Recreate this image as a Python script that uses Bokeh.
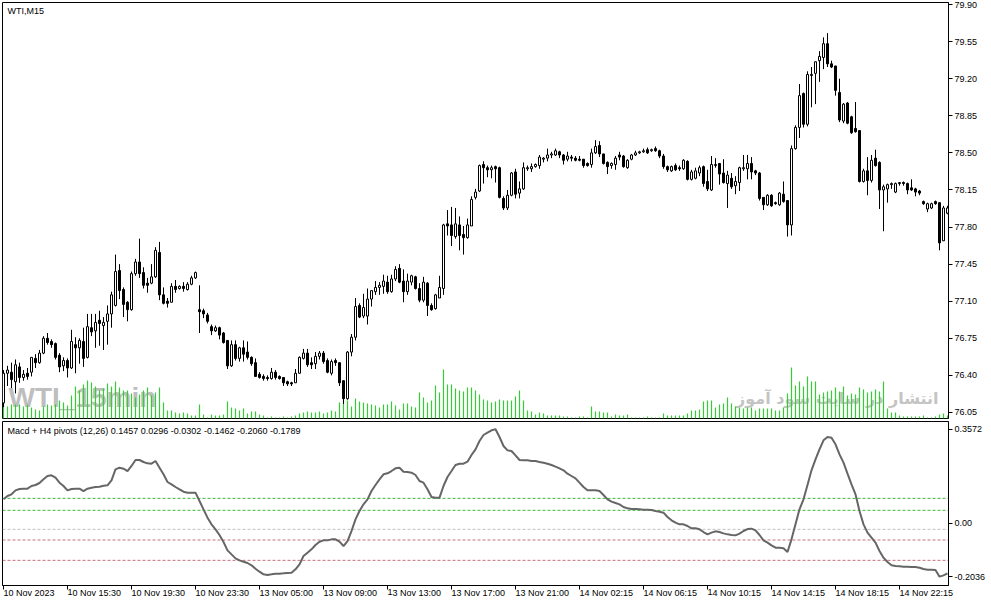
from bokeh.embed import file_html
from bokeh.layouts import column
from bokeh.models import ColumnDataSource, FixedTicker, Label, NumeralTickFormatter, Range1d, Span
from bokeh.plotting import figure
from bokeh.resources import INLINE

# WTI M15 candles, 10 Nov 11:30 .. 14 Nov 22:30
opens = [
    76.14, 76.42, 76.43, 76.34, 76.48, 76.38, 76.42, 76.43, 76.56, 76.52,
    76.61, 76.75, 76.72, 76.70, 76.59, 76.49, 76.54, 76.47, 76.69, 76.66,
    76.72, 76.57, 76.85, 76.82, 76.92, 76.87, 76.91, 76.98, 77.06, 77.39,
    77.21, 77.09, 77.02, 77.36, 77.47, 77.37, 77.27, 77.27, 77.33, 77.56,
    77.16, 77.10, 77.09, 77.24, 77.22, 77.24, 77.21, 77.26, 77.32, 77.02,
    77.01, 76.97, 76.86, 76.82, 76.85, 76.80, 76.73, 76.49, 76.69, 76.56,
    76.66, 76.62, 76.57, 76.52, 76.41, 76.39, 76.38, 76.37, 76.43, 76.39,
    76.38, 76.34, 76.33, 76.33, 76.42, 76.56, 76.61, 76.52, 76.51, 76.58,
    76.61, 76.54, 76.42, 76.54, 76.52, 76.35, 76.18, 76.62, 76.76, 77.06,
    76.96, 76.96, 77.12, 77.19, 77.23, 77.24, 77.28, 77.19, 77.31, 77.41,
    77.29, 77.19, 77.28, 77.33, 77.22, 77.11, 77.27, 77.06, 77.03, 77.13,
    77.22, 77.83, 77.82, 77.71, 77.82, 77.73, 77.70, 77.81, 78.08, 78.14,
    78.39, 78.36, 78.34, 78.37, 78.36, 78.07, 77.98, 78.10, 78.32, 78.12,
    78.16, 78.35, 78.35, 78.37, 78.38, 78.44, 78.45, 78.48, 78.48, 78.51,
    78.48, 78.44, 78.46, 78.45, 78.44, 78.44, 78.40, 78.39, 78.50, 78.57,
    78.49, 78.41, 78.38, 78.39, 78.48, 78.47, 78.36, 78.44, 78.48, 78.50,
    78.51, 78.53, 78.52, 78.54, 78.52, 78.47, 78.37, 78.33, 78.38, 78.36,
    78.35, 78.42, 78.25, 78.26, 78.31, 78.37, 78.23, 78.15, 78.38, 78.40,
    78.31, 78.21, 78.26, 78.19, 78.22, 78.35, 78.35, 78.40, 78.33, 78.31,
    78.08, 78.01, 78.10, 78.03, 78.01, 78.11, 78.05, 77.82, 78.54, 78.74,
    79.06, 78.77, 79.23, 79.25, 79.37, 79.40, 79.53, 79.34, 79.32, 79.07,
    78.80, 78.97, 78.84, 78.73, 78.71, 78.23, 78.33, 78.24, 78.45, 78.41,
    78.15, 78.16, 78.20, 78.13, 78.21, 78.22, 78.21, 78.17, 78.16, 78.14,
    78.04, 77.97, 77.98, 78.04, 78.03, 77.67, 77.93,
]
highs = [
    76.45, 76.49, 76.52, 76.55, 76.52, 76.45, 76.47, 76.57, 76.60, 76.64,
    76.77, 76.80, 76.74, 76.71, 76.61, 76.57, 76.56, 76.83, 76.76, 76.75,
    76.85, 76.98, 76.98, 76.98, 77.01, 76.95, 77.06, 77.19, 77.54, 77.45,
    77.23, 77.10, 77.38, 77.50, 77.69, 77.42, 77.32, 77.45, 77.61, 77.66,
    77.23, 77.13, 77.27, 77.30, 77.25, 77.28, 77.28, 77.34, 77.38, 77.25,
    77.03, 76.99, 76.88, 76.87, 76.86, 76.81, 76.73, 76.73, 76.73, 76.67,
    76.73, 76.72, 76.58, 76.56, 76.43, 76.41, 76.40, 76.47, 76.45, 76.40,
    76.38, 76.35, 76.34, 76.46, 76.58, 76.65, 76.65, 76.57, 76.62, 76.63,
    76.63, 76.56, 76.55, 76.56, 76.52, 76.35, 76.63, 76.79, 77.13, 77.08,
    77.17, 77.22, 77.20, 77.29, 77.28, 77.35, 77.34, 77.35, 77.43, 77.45,
    77.40, 77.36, 77.35, 77.34, 77.27, 77.33, 77.28, 77.08, 77.17, 77.34,
    77.83, 77.96, 77.99, 77.98, 77.90, 77.81, 77.88, 78.09, 78.16, 78.39,
    78.42, 78.38, 78.38, 78.38, 78.37, 78.09, 78.15, 78.32, 78.35, 78.23,
    78.41, 78.38, 78.40, 78.40, 78.48, 78.46, 78.54, 78.51, 78.54, 78.52,
    78.49, 78.51, 78.48, 78.47, 78.47, 78.44, 78.41, 78.54, 78.62, 78.61,
    78.49, 78.42, 78.41, 78.47, 78.51, 78.48, 78.44, 78.49, 78.52, 78.52,
    78.54, 78.55, 78.54, 78.56, 78.53, 78.49, 78.38, 78.38, 78.40, 78.38,
    78.44, 78.43, 78.34, 78.36, 78.38, 78.38, 78.34, 78.47, 78.45, 78.40,
    78.44, 78.33, 78.31, 78.28, 78.37, 78.48, 78.48, 78.46, 78.34, 78.32,
    78.08, 78.11, 78.11, 78.04, 78.13, 78.23, 78.05, 78.57, 78.76, 79.15,
    79.07, 79.27, 79.31, 79.36, 79.46, 79.59, 79.63, 79.37, 79.32, 79.20,
    78.97, 78.98, 78.85, 78.98, 78.71, 78.35, 78.46, 78.48, 78.53, 78.42,
    78.20, 78.21, 78.22, 78.22, 78.22, 78.23, 78.22, 78.25, 78.17, 78.15,
    78.05, 78.03, 78.03, 78.05, 78.03, 78.00, 78.00,
]
lows = [
    76.10, 76.30, 76.28, 76.23, 76.33, 76.35, 76.36, 76.39, 76.47, 76.51,
    76.60, 76.69, 76.66, 76.55, 76.43, 76.44, 76.38, 76.46, 76.42, 76.51,
    76.48, 76.56, 76.77, 76.66, 76.68, 76.64, 76.69, 76.85, 77.05, 77.12,
    76.95, 76.91, 77.01, 77.34, 77.32, 77.22, 77.18, 77.26, 77.32, 77.11,
    77.07, 77.04, 77.09, 77.18, 77.21, 77.19, 77.20, 77.25, 77.31, 76.80,
    76.94, 76.89, 76.78, 76.81, 76.74, 76.70, 76.46, 76.48, 76.54, 76.53,
    76.53, 76.55, 76.49, 76.39, 76.37, 76.35, 76.35, 76.36, 76.36, 76.36,
    76.30, 76.30, 76.30, 76.33, 76.42, 76.55, 76.48, 76.46, 76.46, 76.55,
    76.51, 76.42, 76.40, 76.49, 76.30, 76.13, 76.17, 76.58, 76.73, 76.94,
    76.94, 76.88, 77.05, 77.16, 77.16, 77.17, 77.17, 77.18, 77.29, 77.27,
    77.09, 77.16, 77.25, 77.21, 77.09, 77.09, 76.96, 77.01, 77.02, 77.13,
    77.16, 77.72, 77.62, 77.69, 77.58, 77.54, 77.69, 77.81, 78.06, 78.13,
    78.21, 78.27, 78.26, 78.22, 78.07, 77.96, 77.96, 78.09, 78.07, 78.07,
    78.15, 78.33, 78.32, 78.36, 78.35, 78.41, 78.42, 78.45, 78.47, 78.45,
    78.39, 78.42, 78.42, 78.42, 78.42, 78.36, 78.37, 78.36, 78.49, 78.46,
    78.39, 78.30, 78.35, 78.34, 78.43, 78.36, 78.35, 78.43, 78.47, 78.49,
    78.50, 78.49, 78.51, 78.51, 78.45, 78.35, 78.32, 78.32, 78.33, 78.33,
    78.34, 78.24, 78.24, 78.25, 78.28, 78.18, 78.14, 78.14, 78.36, 78.20,
    78.21, 77.98, 78.16, 78.11, 78.14, 78.33, 78.25, 78.25, 78.29, 78.05,
    77.96, 78.00, 77.99, 78.01, 78.00, 78.03, 77.71, 77.72, 78.53, 78.64,
    78.74, 78.75, 78.93, 78.96, 79.17, 79.29, 79.31, 79.30, 79.04, 78.79,
    78.78, 78.77, 78.68, 78.69, 78.22, 78.22, 78.10, 78.22, 78.37, 77.97,
    77.76, 78.03, 78.16, 78.12, 78.19, 78.19, 78.11, 78.14, 78.09, 78.10,
    78.01, 77.94, 77.97, 78.01, 77.58, 77.67, 77.92,
]
closes = [
    76.42, 76.45, 76.36, 76.50, 76.38, 76.41, 76.39, 76.57, 76.52, 76.61,
    76.75, 76.71, 76.69, 76.57, 76.48, 76.54, 76.47, 76.72, 76.66, 76.73,
    76.56, 76.86, 76.81, 76.90, 76.89, 76.90, 76.98, 77.16, 77.38, 77.20,
    77.07, 77.02, 77.36, 77.47, 77.36, 77.25, 77.25, 77.33, 77.58, 77.16,
    77.08, 77.08, 77.24, 77.21, 77.24, 77.22, 77.26, 77.32, 77.37, 77.00,
    76.98, 76.91, 76.82, 76.85, 76.78, 76.71, 76.49, 76.69, 76.56, 76.66,
    76.60, 76.57, 76.51, 76.39, 76.38, 76.37, 76.37, 76.43, 76.38, 76.37,
    76.33, 76.32, 76.32, 76.42, 76.57, 76.61, 76.50, 76.50, 76.58, 76.61,
    76.53, 76.43, 76.53, 76.52, 76.33, 76.18, 76.62, 76.76, 77.05, 76.95,
    77.04, 77.12, 77.20, 77.23, 77.25, 77.29, 77.19, 77.31, 77.40, 77.28,
    77.19, 77.29, 77.34, 77.22, 77.11, 77.28, 77.06, 77.02, 77.16, 77.23,
    77.82, 77.81, 77.72, 77.83, 77.72, 77.70, 77.82, 78.06, 78.13, 78.38,
    78.36, 78.34, 78.36, 78.35, 78.08, 77.98, 78.10, 78.31, 78.11, 78.16,
    78.36, 78.36, 78.37, 78.39, 78.46, 78.45, 78.48, 78.49, 78.52, 78.48,
    78.43, 78.47, 78.45, 78.43, 78.43, 78.38, 78.38, 78.50, 78.56, 78.49,
    78.40, 78.37, 78.40, 78.45, 78.46, 78.37, 78.43, 78.48, 78.50, 78.51,
    78.52, 78.50, 78.53, 78.52, 78.47, 78.37, 78.34, 78.37, 78.34, 78.35,
    78.43, 78.25, 78.32, 78.33, 78.36, 78.21, 78.16, 78.39, 78.39, 78.30,
    78.22, 78.29, 78.18, 78.23, 78.36, 78.36, 78.40, 78.32, 78.31, 78.07,
    78.01, 78.10, 78.00, 78.02, 78.12, 78.04, 77.82, 78.54, 78.74, 79.04,
    78.77, 79.24, 79.24, 79.36, 79.41, 79.53, 79.34, 79.31, 79.09, 78.81,
    78.96, 78.78, 78.69, 78.70, 78.23, 78.33, 78.24, 78.43, 78.38, 78.15,
    78.18, 78.20, 78.21, 78.21, 78.22, 78.21, 78.15, 78.15, 78.13, 78.12,
    78.02, 78.02, 78.02, 78.02, 77.65, 77.98, 77.98,
]
tick_volumes = [
    16, 12, 14, 14, 14, 12, 14, 11, 9, 8,
    12, 14, 13, 14, 18, 16, 13, 23, 32, 28,
    34, 38, 36, 32, 28, 30, 35, 32, 37, 31,
    28, 28, 25, 21, 24, 28, 31, 23, 26, 31,
    16, 8, 8, 6, 5, 6, 5, 3, 3, 14,
    4, 1, 4, 3, 3, 4, 17, 11, 10, 8,
    10, 5, 7, 7, 4, 3, 1, 2, 1, 1,
    2, 1, 2, 3, 5, 6, 7, 6, 6, 7,
    5, 6, 8, 7, 16, 18, 18, 12, 20, 17,
    16, 15, 14, 13, 11, 14, 14, 17, 13, 9,
    15, 15, 12, 11, 26, 21, 16, 18, 33, 26,
    49, 34, 34, 30, 28, 27, 31, 31, 28, 24,
    19, 18, 16, 17, 19, 18, 18, 18, 22, 28,
    18, 8, 7, 4, 6, 5, 3, 3, 3, 3,
    2, 2, 1, 1, 2, 2, 1, 12, 7, 7,
    6, 6, 2, 4, 3, 3, 4, 1, 1, 1,
    1, 2, 1, 1, 1, 5, 3, 3, 3, 3,
    3, 5, 8, 8, 9, 17, 18, 18, 11, 14,
    15, 21, 15, 12, 11, 10, 11, 11, 8, 10,
    10, 10, 10, 8, 8, 11, 25, 51, 33, 37,
    32, 42, 37, 37, 24, 26, 27, 28, 31, 27,
    32, 23, 25, 24, 31, 29, 26, 27, 29, 27,
    37, 10, 6, 6, 3, 2, 2, 2, 2, 2,
    3, 1, 1, 2, 4, 5, 3,
]
macd = [
    0.0907, 0.1034, 0.1098, 0.1250, 0.1300, 0.1313, 0.1313, 0.1415, 0.1453, 0.1529,
    0.1668, 0.1795, 0.1821, 0.1732, 0.1541, 0.1415, 0.1250, 0.1300, 0.1313, 0.1313,
    0.1224, 0.1313, 0.1351, 0.1377, 0.1389, 0.1427, 0.1440, 0.1630, 0.2049, 0.2112,
    0.2074, 0.1985, 0.2176, 0.2404, 0.2404, 0.2328, 0.2277, 0.2264, 0.2366, 0.2112,
    0.1859, 0.1567, 0.1478, 0.1377, 0.1288, 0.1199, 0.1161, 0.1161, 0.1161, 0.0844,
    0.0527, 0.0210, -0.0044, -0.0234, -0.0450, -0.0716, -0.1033, -0.1186, -0.1338, -0.1414,
    -0.1465, -0.1515, -0.1604, -0.1731, -0.1845, -0.1947, -0.1972, -0.1947, -0.1921, -0.1921,
    -0.1909, -0.1896, -0.1883, -0.1756, -0.1566, -0.1249, -0.1122, -0.0995, -0.0830, -0.0704,
    -0.0653, -0.0653, -0.0615, -0.0615, -0.0704, -0.0869, -0.0678, -0.0298, 0.0146, 0.0463,
    0.0717, 0.0907, 0.1224, 0.1453, 0.1668, 0.1859, 0.1897, 0.1985, 0.2087, 0.2112,
    0.1960, 0.1947, 0.1922, 0.1833, 0.1605, 0.1541, 0.1288, 0.0996, 0.0971, 0.0971,
    0.1415, 0.1757, 0.1985, 0.2214, 0.2264, 0.2264, 0.2341, 0.2594, 0.2810, 0.3127,
    0.3355, 0.3444, 0.3533, 0.3571, 0.3279, 0.2937, 0.2772, 0.2746, 0.2582, 0.2404,
    0.2391, 0.2391, 0.2366, 0.2366, 0.2328, 0.2302, 0.2264, 0.2214, 0.2150, 0.2087,
    0.2011, 0.1884, 0.1795, 0.1706, 0.1541, 0.1377, 0.1250, 0.1250, 0.1250, 0.1224,
    0.1072, 0.0907, 0.0819, 0.0768, 0.0717, 0.0616, 0.0565, 0.0539, 0.0539, 0.0527,
    0.0514, 0.0514, 0.0501, 0.0463, 0.0438, 0.0400, 0.0235, 0.0108, 0.0019, -0.0044,
    -0.0044, -0.0107, -0.0196, -0.0196, -0.0234, -0.0336, -0.0425, -0.0361, -0.0310, -0.0336,
    -0.0387, -0.0425, -0.0450, -0.0463, -0.0399, -0.0298, -0.0222, -0.0209, -0.0272, -0.0450,
    -0.0653, -0.0742, -0.0843, -0.0932, -0.0932, -0.0957, -0.1097, -0.0615, -0.0044, 0.0527,
    0.0907, 0.1453, 0.2011, 0.2429, 0.2810, 0.3152, 0.3279, 0.3254, 0.3000, 0.2620,
    0.2302, 0.1884, 0.1478, 0.1098, 0.0463, -0.0044, -0.0361, -0.0551, -0.0742, -0.1059,
    -0.1312, -0.1477, -0.1604, -0.1630, -0.1642, -0.1655, -0.1655, -0.1668, -0.1668, -0.1693,
    -0.1744, -0.1769, -0.1769, -0.1782, -0.2035, -0.1985, -0.1909,
]
pivot_levels = [0.0945, 0.0489, -0.0234, -0.0640, -0.1414]
pivot_colors = ["#3cb93c", "#3cb93c", "#c0c0c0", "#c8707f", "#c8707f"]

price_ticks = [76.05, 76.40, 76.75, 77.10, 77.45, 77.80, 78.15, 78.50, 78.85, 79.20, 79.55, 79.90]
macd_ticks = [-0.2036, 0.0, 0.3572]
macd_tick_labels = ["-0.2036", "0.00", "0.3572"]
time_ticks = list(range(0, 225, 16))
time_labels = [
    "10 Nov 2023", "10 Nov 15:30", "10 Nov 19:30", "10 Nov 23:30", "13 Nov 05:00",
    "13 Nov 09:00", "13 Nov 13:00", "13 Nov 17:00", "13 Nov 21:00", "14 Nov 02:15",
    "14 Nov 06:15", "14 Nov 10:15", "14 Nov 14:15", "14 Nov 18:15", "14 Nov 22:15",
]
macd_title = "Macd + H4 pivots (12,26) 0.1457 0.0296 -0.0302 -0.1462 -0.2060 -0.1789"

FONT = "Liberation Sans"
n = len(closes)
idx = list(range(n))

src = ColumnDataSource(dict(
    x=idx, high=highs, low=lows,
    top=[max(o, c) for o, c in zip(opens, closes)],
    bottom=[min(o, c) for o, c in zip(opens, closes)],
    fill=["white" if c >= o else "black" for o, c in zip(opens, closes)],
    vol=tick_volumes,
))

# 4 px per bar
x_range = Range1d(-0.25, n - 0.75)


def style_axis(ax):
    ax.axis_line_color = "black"
    ax.major_tick_line_color = "black"
    ax.major_tick_out = 4
    ax.major_tick_in = 0
    ax.minor_tick_line_color = None
    ax.major_label_text_font = FONT
    ax.major_label_text_font_size = "9px"
    ax.major_label_text_color = "black"
    ax.major_label_standoff = 2


# price window
p = figure(width=991, height=419, x_range=x_range, y_range=Range1d(75.993, 79.919),
           x_axis_location=None, y_axis_location="right",
           toolbar_location=None, output_backend="svg",
           min_border_left=2, min_border_right=43, min_border_top=2, min_border_bottom=1)
p.extra_y_ranges = {"vol": Range1d(0, 416)}
p.grid.visible = False
p.outline_line_color = "black"

p.add_layout(Label(x=6, y=6, x_units="screen", y_units="screen", text="WTI_15min",
                   text_font=FONT, text_font_size="28px", text_font_style="bold",
                   text_color="#bebebe", level="underlay"))
p.add_layout(Label(x=936, y=20, x_units="screen", y_units="screen", text="انتشار در سایت سود آموز",
                   text_font="DejaVu Sans", text_font_size="16px", text_font_style="bold",
                   text_color="#c4c4c4", text_align="right", text_baseline="middle",
                   level="underlay"))

p.segment(x0="x", y0=0, x1="x", y1="vol", source=src, y_range_name="vol",
          line_color="#36cc36", line_width=1.2)
p.segment(x0="x", y0="high", x1="x", y1="low", source=src, line_color="black", line_width=1)
p.vbar(x="x", width=0.5, top="top", bottom="bottom", source=src,
       fill_color="fill", line_color="black", line_width=1)

p.add_layout(Label(x=5, y=408, x_units="screen", y_units="screen", text="WTI,M15",
                   text_font=FONT, text_font_size="9px", text_color="black",
                   text_baseline="middle"))

style_axis(p.yaxis[0])
p.yaxis[0].ticker = FixedTicker(ticks=price_ticks)
p.yaxis[0].formatter = NumeralTickFormatter(format="0.00")

# MACD window
m = figure(width=991, height=186, x_range=x_range, y_range=Range1d(-0.2371, 0.3869),
           y_axis_location="right", toolbar_location=None, output_backend="svg",
           min_border_left=2, min_border_right=43, min_border_top=2, min_border_bottom=20)
m.grid.visible = False
m.outline_line_color = "black"

for lv, col in zip(pivot_levels, pivot_colors):
    m.add_layout(Span(location=lv, dimension="width", line_color=col,
                      line_dash="3 2", line_width=1, level="underlay"))

m.line(idx, macd, line_color="#666666", line_width=2)

m.add_layout(Label(x=5, y=155, x_units="screen", y_units="screen", text=macd_title,
                   text_font=FONT, text_font_size="9px", text_color="black",
                   text_baseline="middle"))

style_axis(m.yaxis[0])
m.yaxis[0].ticker = FixedTicker(ticks=macd_ticks)
m.yaxis[0].major_label_overrides = dict(zip(macd_ticks, macd_tick_labels))

# time axis; a tiny negative numeric orientation makes bokeh start each label at its tick
style_axis(m.xaxis[0])
m.xaxis[0].ticker = FixedTicker(ticks=time_ticks)
m.xaxis[0].major_label_overrides = dict(zip(time_ticks, time_labels))
m.xaxis[0].major_label_orientation = -1e-6
m.xaxis[0].major_label_standoff = 3

layout = column(p, m, spacing=0)
open("out.html", "w").write(file_html(layout, INLINE))
